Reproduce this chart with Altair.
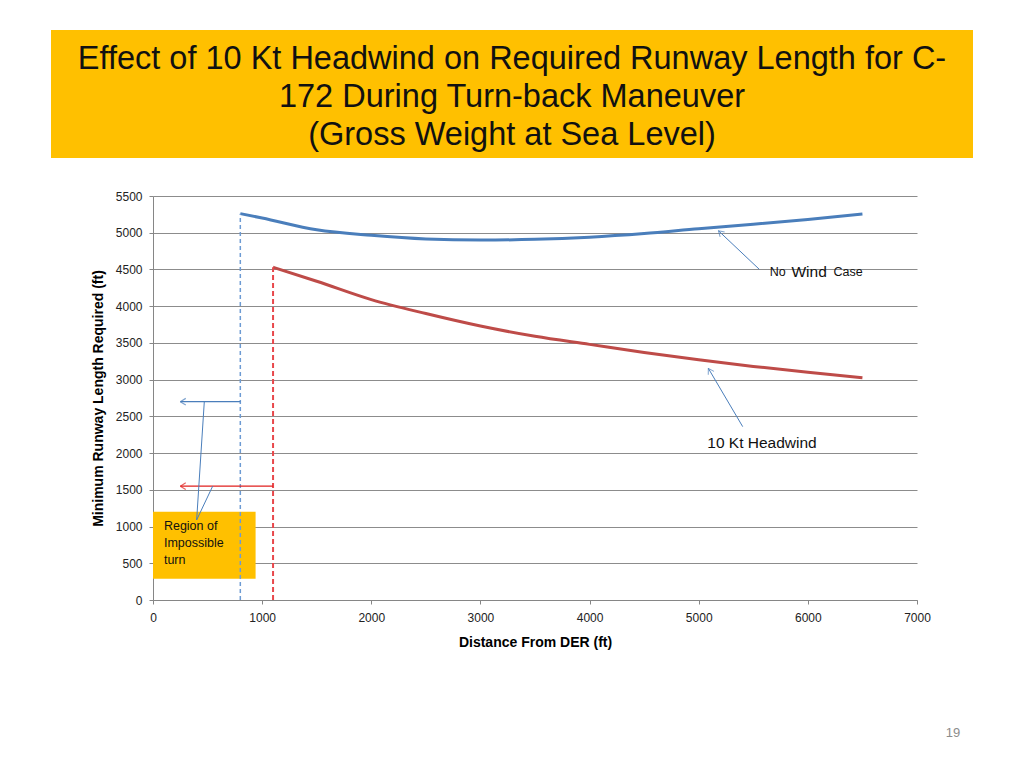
import altair as alt
import pandas as pd

# ---- data ----
nowind_x = [800, 1000, 1500, 2000, 2500, 3000, 3500, 4000, 4500, 5000, 5500, 6000, 6500]
nowind_y = [5260, 5200, 5040, 4965, 4915, 4900, 4910, 4940, 4990, 5055, 5115, 5180, 5255]
head_x = [1100, 1500, 2000, 2500, 3000, 3500, 4000, 4500, 5000, 5500, 6000, 6500]
head_y = [4530, 4340, 4090, 3900, 3730, 3590, 3480, 3370, 3270, 3180, 3100, 3025]

series_names = ["No Wind Case", "10 Kt Headwind"]
series_colors = ["#4A7EBB", "#BE4B48"]

x_ticks = [0, 1000, 2000, 3000, 4000, 5000, 6000, 7000]
y_ticks = [0, 500, 1000, 1500, 2000, 2500, 3000, 3500, 4000, 4500, 5000, 5500]

title_lines = [
    "Effect of 10 Kt Headwind on Required Runway Length for C-",
    "172 During Turn-back Maneuver",
    "(Gross Weight at Sea Level)",
]
region_lines = ["Region of", "Impossible", "turn"]

# threshold distances (start of each curve)
nowind_min_x, nowind_min_y = 800, 5260
head_min_x, head_min_y = 1100, 4530

W, H = 764, 404
FONT = "Liberation Sans"

rows = [{"x": a, "y": b, "s": series_names[0]} for a, b in zip(nowind_x, nowind_y)]
rows += [{"x": a, "y": b, "s": series_names[1]} for a, b in zip(head_x, head_y)]
df = pd.DataFrame(rows)

xs = alt.Scale(domain=[0, 7000], nice=False)
ys = alt.Scale(domain=[0, 5500], nice=False)

xaxis = alt.Axis(
    values=x_ticks, format="d", title="Distance From DER (ft)", grid=False,
    tickSize=4, tickColor="#868686", domainColor="#868686", labelFlush=False,
    labelFont=FONT, labelFontSize=12, labelColor="#222", labelPadding=8,
    titleFont=FONT, titleFontSize=14, titleFontWeight="bold", titleColor="#000",
    titleX=382, titleY=42, titleBaseline="middle")
yaxis = alt.Axis(
    values=y_ticks, format="d", title="Minimum Runway Length Required (ft)", grid=True,
    gridColor="#8C8C8C", gridWidth=1, tickSize=4, tickColor="#868686", labelFlush=False,
    domainColor="#868686", labelFont=FONT, labelFontSize=12, labelColor="#222",
    labelPadding=7, titleFont=FONT, titleFontSize=14, titleFontWeight="bold",
    titleColor="#000", titleX=-55, titleY=202, titleAngle=-90,
    titleAlign="center", titleBaseline="middle")


def X(f):
    return alt.X(f, scale=xs, axis=xaxis)


def Y(f):
    return alt.Y(f, scale=ys, axis=yaxis)


lines = alt.Chart(df).mark_line(strokeWidth=3, interpolate="monotone").encode(
    x=X("x:Q"), y=Y("y:Q"),
    color=alt.Color("s:N", scale=alt.Scale(domain=series_names, range=series_colors), legend=None),
    detail="s:N",
)

# title banner (decoration)
banner = alt.Chart(pd.DataFrame({"a": [0]})).mark_rect(color="#FFC000").encode(
    x=alt.value(-102), x2=alt.value(820), y=alt.value(-166), y2=alt.value(-38))
title_df = pd.DataFrame({"t": title_lines, "py": [-137, -99, -61]})
title_txt = alt.Chart(title_df).mark_text(
    font=FONT, fontSize=32.5, color="#111", align="center", baseline="middle").encode(
    x=alt.value(359), y=alt.Y("py:Q", scale=None), text="t:N")

# region of impossible turn
region_df = pd.DataFrame({"x": [0], "x2": [940], "y": [290], "y2": [1200]})
region = alt.Chart(region_df).mark_rect(color="#FFC000").encode(
    x=X("x:Q"), x2="x2:Q", y=Y("y:Q"), y2="y2:Q")
region_txt_df = pd.DataFrame({"t": region_lines, "x": [100] * 3, "y": [1005, 775, 545]})
region_txt = alt.Chart(region_txt_df).mark_text(
    font=FONT, fontSize=12.5, color="#111", align="left", baseline="middle").encode(
    x=X("x:Q"), y=Y("y:Q"), text="t:N")

# dashed threshold lines
vdf = pd.DataFrame({"x": [nowind_min_x], "y": [0], "y2": [nowind_min_y]})
vline_b = alt.Chart(vdf).mark_rule(strokeDash=[4, 3], strokeWidth=1.5, color="#6D9BD3").encode(
    x=X("x:Q"), y=Y("y:Q"), y2="y2:Q")
vdf2 = pd.DataFrame({"x": [head_min_x], "y": [0], "y2": [head_min_y]})
vline_r = alt.Chart(vdf2).mark_rule(strokeDash=[5, 3], strokeWidth=2, color="#E8474B").encode(
    x=X("x:Q"), y=Y("y:Q"), y2="y2:Q")

# horizontal arrows pointing into the impossible region
hdf = pd.DataFrame({"x": [250, 250], "x2": [nowind_min_x, head_min_x], "y": [2700, 1550],
                    "c": ["#4A7EBB", "#E0201E"]})
harrows = alt.Chart(hdf).mark_rule(strokeWidth=1.2).encode(
    x=X("x:Q"), x2="x2:Q", y=Y("y:Q"), color=alt.Color("c:N", scale=None))
CHEV = "M0,0L1,-0.6M0,0L1,0.6"
hheads = alt.Chart(hdf).mark_point(shape=CHEV, filled=False, size=120, strokeWidth=1.2).encode(
    x=X("x:Q"), y=Y("y:Q"), color=alt.Color("c:N", scale=None))

# leader lines from box to arrows
ldf = pd.DataFrame({"x": [470, 547], "y": [2700, 1550], "x2": [400, 400], "y2": [1090, 1090]})
leaders = alt.Chart(ldf).mark_rule(strokeWidth=1, color="#4A7EBB").encode(
    x=X("x:Q"), y=Y("y:Q"), x2="x2:Q", y2="y2:Q")

# callout arrows to curves
cdf = pd.DataFrame({"x": [5555, 5403], "y": [4502, 2360], "x2": [5180, 5088], "y2": [5028, 3154],
                    "ang": [42.8, 59.5]})
callouts = alt.Chart(cdf).mark_rule(strokeWidth=1, color="#4A7EBB").encode(
    x=X("x:Q"), y=Y("y:Q"), x2="x2:Q", y2="y2:Q")
cheads = alt.Chart(cdf).mark_point(shape=CHEV, filled=False, size=120, strokeWidth=1, color="#4A7EBB").encode(
    x=X("x2:Q"), y=Y("y2:Q"), angle=alt.Angle("ang:Q", scale=None))

# callout labels
lab_df = pd.DataFrame({"t": ["No", "Wind", "Case"],
                       "x": [5650, 5850, 6235],
                       "y": [4466, 4466, 4466],
                       "fs": [12.5, 15.5, 12.5]})
labs_left = alt.Chart(lab_df).mark_text(
    font=FONT, color="#111", align="left", baseline="middle").encode(
    x=X("x:Q"), y=Y("y:Q"), text="t:N",
    size=alt.Size("fs:Q", scale=None, legend=None))
lab2_df = pd.DataFrame({"t": ["10 Kt Headwind"], "x": [5580], "y": [2140]})
labs_center = alt.Chart(lab2_df).mark_text(
    font=FONT, fontSize=15.5, color="#111", align="center", baseline="middle").encode(
    x=X("x:Q"), y=Y("y:Q"), text="t:N")

page_no = alt.Chart(pd.DataFrame({"t": ["19"]})).mark_text(
    font=FONT, fontSize=13, color="#8C8C8C", align="center", baseline="middle").encode(
    x=alt.value(800), y=alt.value(537), text="t:N")

chart = alt.layer(
    banner, title_txt, region, lines, vline_b, vline_r, harrows, hheads, leaders,
    callouts, cheads, region_txt, labs_left, labs_center, page_no,
).properties(
    width=W, height=H,
    autosize=alt.AutoSizeParams(type="none"),
    padding={"left": 145, "top": 188, "right": 90, "bottom": 150},
).configure_view(stroke=None)

chart.save("out.html", embed_options={"renderer": "svg", "actions": False})
